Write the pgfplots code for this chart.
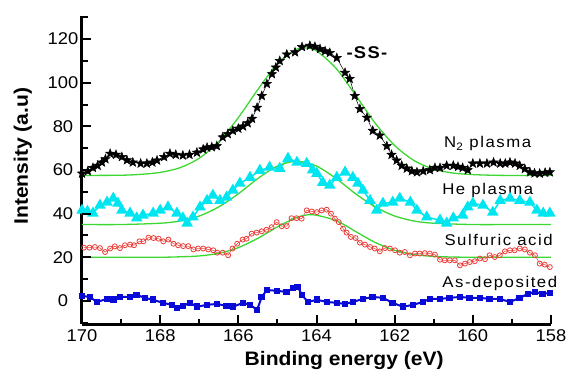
\documentclass[border=0pt]{standalone}
\usepackage{fontspec}
\setmainfont{Liberation Sans}[FakeStretch=1.08]
\usepackage{pgfplots}
\pgfplotsset{compat=1.18}
\definecolor{fitgreen}{RGB}{60,215,50}
\definecolor{hecyan}{RGB}{0,230,240}
\definecolor{sred}{RGB}{235,60,55}
\definecolor{dblue}{RGB}{10,10,215}
\pgfdeclareplotmark{fstar}{%
  \pgfpathmoveto{\pgfpointpolar{90}{\pgfplotmarksize}}%
  \pgfpathlineto{\pgfpointpolar{126}{0.42\pgfplotmarksize}}%
  \pgfpathlineto{\pgfpointpolar{162}{\pgfplotmarksize}}%
  \pgfpathlineto{\pgfpointpolar{198}{0.42\pgfplotmarksize}}%
  \pgfpathlineto{\pgfpointpolar{234}{\pgfplotmarksize}}%
  \pgfpathlineto{\pgfpointpolar{270}{0.42\pgfplotmarksize}}%
  \pgfpathlineto{\pgfpointpolar{306}{\pgfplotmarksize}}%
  \pgfpathlineto{\pgfpointpolar{342}{0.42\pgfplotmarksize}}%
  \pgfpathlineto{\pgfpointpolar{18}{\pgfplotmarksize}}%
  \pgfpathlineto{\pgfpointpolar{54}{0.42\pgfplotmarksize}}%
  \pgfpathclose\pgfusepathqfillstroke}
\newcommand{\lbl}{\fontsize{15.5}{16}\selectfont\addfontfeature{LetterSpace=10}}
\begin{document}
\begin{tikzpicture}
\path (-82pt,-46pt) rectangle (490pt,324pt);
\begin{axis}[
  at={(0pt,0pt)}, anchor=south west,
  scale only axis, width=469pt, height=308pt,
  x filter/.expression={-x},
  xmin=-170, xmax=-158, ymin=-10.6, ymax=130.6,
  axis x line*=bottom, axis y line*=left,
  axis line style={line width=3pt},
  xtick align=inside, ytick align=inside,
  major tick length=9pt, minor tick length=5.5pt,
  xtick style={black, line width=2pt},
  ytick style={black, line width=2pt},
  xtick={-170,-168,...,-158}, xticklabels={170,168,166,164,162,160,158},
  minor xtick={-169,-167,...,-159},
  ytick={0,20,...,120}, minor ytick={-10,10,...,130},
  /pgf/number format/assume math mode=true,
  ticklabel style={font=\fontsize{17}{17}\selectfont},
  yticklabel style={anchor=center, xshift=-19pt},
  xticklabel style={yshift=-2pt},
  xlabel={\textbf{Binding energy (eV)}},
  ylabel={\textbf{Intensity (a.u)}},
  label style={font=\fontsize{19.5}{20}\selectfont},
  xlabel style={at={(axis description cs:0.559,-0.117)}, anchor=center},
  ylabel style={at={(axis description cs:-0.126,0.545)}, anchor=center},
  clip=false,
]
% N2 plasma
\addplot[black, line width=0.5pt, mark=fstar, mark size=4.8pt, mark options={fill=black}] coordinates {
(170.00,58.4)(169.85,59.5)(169.72,61)(169.60,62)(169.49,63.5)(169.40,65)(169.28,67.5)(169.13,67)(168.98,66)(168.85,64.5)(168.70,63.5)(168.50,63)(168.34,63)(168.20,63.5)(168.08,64.4)(167.90,66)(167.75,67.5)(167.60,67)(167.42,66.7)(167.25,67)(167.06,68)(166.90,69.5)(166.80,70.3)(166.68,70.5)(166.55,71)(166.40,75)(166.27,76.5)(166.14,78)(166.00,79)(165.88,80)(165.76,81.5)(165.65,83.5)(165.52,88.6)(165.40,94)(165.27,99.5)(165.14,104)(165.04,107)(164.94,110)(164.76,113)(164.55,114)(164.37,116.4)(164.17,117)(164.04,116.5)(163.91,115.5)(163.78,114.5)(163.66,113.7)(163.48,111.4)(163.27,104.6)(163.15,101.8)(163.02,94)(162.89,88)(162.71,84)(162.56,78)(162.38,75.8)(162.20,71)(162.08,67)(161.95,64.4)(161.82,62)(161.69,60.7)(161.56,59.5)(161.43,59)(161.27,59.5)(161.10,60)(160.97,61)(160.84,61)(160.67,62)(160.50,62)(160.38,61.5)(160.26,61)(160.13,60)(160.00,63)(159.82,63)(159.64,63)(159.47,63.5)(159.30,63)(159.17,63)(159.05,63.5)(158.92,63)(158.80,62)(158.67,60.5)(158.54,59)(158.42,58.5)(158.29,58.4)(158.15,58.8)(158.03,59)
};
% He plasma
\addplot[hecyan, line width=1.5pt, mark=triangle*, mark size=5.2pt, mark options={fill=hecyan}] coordinates {
(170.00,41.5)(169.86,41)(169.72,40.2)(169.54,43.8)(169.36,45.2)(169.20,47)(169.08,44.7)(168.98,41.5)(168.77,40.2)(168.60,38)(168.44,39.3)(168.18,40.2)(168.00,41.5)(167.80,43)(167.57,40.2)(167.42,38)(167.31,35.6)(167.16,38.4)(166.98,43)(166.80,46)(166.65,48.4)(166.47,46)(166.30,47.5)(166.14,50.7)(165.96,53.9)(165.70,56.6)(165.45,59.8)(165.20,61.2)(164.94,60.7)(164.73,65.3)(164.50,63.5)(164.25,63)(164.10,60)(163.99,58.4)(163.84,54.3)(163.66,53)(163.48,56.6)(163.27,59)(163.07,56.6)(162.94,53.9)(162.81,50.7)(162.63,46)(162.46,41.5)(162.30,44.7)(162.05,45.2)(161.87,47)(161.60,45.2)(161.43,41.5)(161.18,38.4)(160.84,37)(160.67,35.6)(160.50,38)(160.26,39.3)(160.13,43)(160.00,44.7)(159.74,43.8)(159.49,40.6)(159.30,46)(159.05,47)(158.80,46)(158.54,45.2)(158.36,41.5)(158.20,40.2)(158.03,40.2)
};
% Sulfuric acid
\addplot[sred, line width=0.5pt, mark=o, mark size=2.5pt, mark options={line width=0.8pt}] coordinates {
(169.95,24.4)(169.81,24.4)(169.67,24.7)(169.54,24.2)(169.41,22.4)(169.28,24)(169.16,25)(169.03,24.2)(168.90,25.5)(168.77,25.8)(168.67,25.5)(168.53,27.3)(168.43,27.3)(168.30,29)(168.17,28.8)(168.04,28.5)(167.92,27.3)(167.79,28.1)(167.66,26.2)(167.54,25.5)(167.41,25.1)(167.28,25.1)(167.15,23.6)(167.03,24)(166.90,24)(166.77,23.6)(166.64,23.2)(166.54,22.1)(166.40,22.1)(166.26,20.9)(166.15,24)(166.03,26.2)(165.89,28.1)(165.79,28.5)(165.66,30.8)(165.53,31.3)(165.40,31.9)(165.28,32.6)(165.15,33.8)(165.02,36.1)(164.89,34.2)(164.76,34.3)(164.64,37.9)(164.51,37.9)(164.38,37.7)(164.25,41.5)(164.12,41)(163.99,40.7)(163.87,41.5)(163.74,41.8)(163.63,40)(163.53,37.7)(163.43,36.1)(163.32,33.1)(163.23,31.3)(163.12,29.3)(163.00,28.8)(162.89,26.7)(162.76,25.8)(162.63,24.7)(162.51,24)(162.38,22.7)(162.25,24.2)(162.12,24)(161.99,23.2)(161.87,22.1)(161.74,22.4)(161.61,20.9)(161.48,21.7)(161.36,21.7)(161.23,21.9)(161.10,21.7)(160.97,21.2)(160.84,18.9)(160.72,18.6)(160.59,18.6)(160.46,18.6)(160.33,16.3)(160.20,17.1)(160.08,17.8)(159.95,18.2)(159.82,19.4)(159.69,19.1)(159.57,20.9)(159.44,20.1)(159.31,20.9)(159.18,22.7)(159.05,23.2)(158.93,23.2)(158.80,24)(158.67,23.6)(158.54,22.1)(158.41,20.9)(158.29,17.1)(158.16,16.6)(158.03,15.5)
};
% As-deposited
\addplot[dblue, line width=2pt, mark=square*, mark size=2.3pt, mark options={fill=dblue}] coordinates {
(170.00,2.3)(169.80,1.8)(169.62,-0.5)(169.36,0.9)(169.20,0.5)(169.03,1.8)(168.77,1.8)(168.60,2.7)(168.39,1.4)(168.18,0.5)(167.93,-0.9)(167.70,-1.8)(167.57,-3.2)(167.42,-2.3)(167.24,-0.9)(167.06,-2.7)(166.80,-1.8)(166.55,-1.4)(166.30,-2.3)(166.14,-2.7)(165.88,-0.9)(165.70,-1.8)(165.52,-4.1)(165.40,1.8)(165.27,5)(165.01,4.6)(164.76,4.1)(164.60,5.9)(164.48,6.4)(164.37,2.7)(164.22,-0.5)(163.99,0.5)(163.73,-0.5)(163.48,-0.9)(163.27,-1.4)(163.07,-0.5)(162.81,0.9)(162.56,1.8)(162.30,1.4)(162.05,-0.9)(161.79,-2.7)(161.53,-1.8)(161.28,-0.5)(161.10,0.9)(160.84,0.9)(160.59,1.4)(160.33,1.8)(160.08,1.4)(159.82,1.4)(159.57,0.9)(159.31,0.9)(159.05,-0.5)(158.80,1.4)(158.59,3.2)(158.41,4.1)(158.21,3.2)(158.03,3.7)
};
% fits
\addplot[fitgreen, line width=1.3pt, smooth, no marks] coordinates {
(170,57.5)(169,57.6)(168.5,58.0)(168,58.9)(167.5,61.0)(167,65.4)(166.5,73.0)(166,84.0)(165.5,96.9)(165,108.7)(164.5,115.4)(164.3,116)(164,114.6)(163.5,106.6)(163,94.3)(162.5,81.5)(162,71.2)(161.5,64.3)(161,60.4)(160.5,58.6)(160,57.9)(159.5,57.6)(159,57.5)(158,57.5)
};
\addplot[fitgreen, line width=1.3pt, smooth, no marks] coordinates {
(170,35)(169,35.0)(168,35.6)(167.5,36.6)(167,38.9)(166.5,43.1)(166,49.1)(165.5,56.1)(165,61.8)(164.5,64)(164,61.8)(163.5,56.1)(163,49.1)(162.5,43.1)(162,38.9)(161.5,36.6)(161,35.6)(160,35.0)(159,35)(158,35)
};
\addplot[fitgreen, line width=1.3pt, smooth, no marks] coordinates {
(170,20)(169,20)(168,20.0)(167.5,20.2)(167,20.6)(166.5,21.8)(166,24.4)(165.5,28.7)(165,33.9)(164.5,38.3)(164.1,39.5)(163.5,36.8)(163,31.8)(162.5,26.8)(162,23.2)(161.5,21.2)(161,20.4)(160.5,20.1)(160,20)(159,20)(158,20)
};
\node[font=\lbl] at (axis cs:-159.62,72) {N\textsubscript{2} plasma};
\node[font=\lbl] at (axis cs:-159.62,50.7) {He plasma};
\node[font=\lbl] at (axis cs:-159.34,27.9) {Sulfuric acid};
\node[font=\lbl] at (axis cs:-159.31,8.2) {As-deposited};
\node[font=\fontsize{17}{17}\selectfont\bfseries\addfontfeature{LetterSpace=8}] at (axis cs:-162.71,113.8) {-SS-};
\end{axis}
% tick marks drawn on the axis frame (axis box spans (0,0)--(469pt,308pt))
\foreach \t in {0,78.167,156.333,234.5,312.667,390.833,469}
  {\draw[black, line width=2pt] (\t pt,0pt) -- (\t pt,9pt);}
\foreach \t in {39.083,117.25,195.417,273.583,351.75,429.917}
  {\draw[black, line width=2pt] (\t pt,0pt) -- (\t pt,5.5pt);}
\foreach \t in {23.122,66.748,110.374,154.0,197.626,241.252,284.878}
  {\draw[black, line width=2pt] (0pt,\t pt) -- (9pt,\t pt);}
\foreach \t in {1.309,44.935,88.561,132.187,175.813,219.439,263.065,306.691}
  {\draw[black, line width=2pt] (0pt,\t pt) -- (5.5pt,\t pt);}
\end{tikzpicture}
\end{document}
